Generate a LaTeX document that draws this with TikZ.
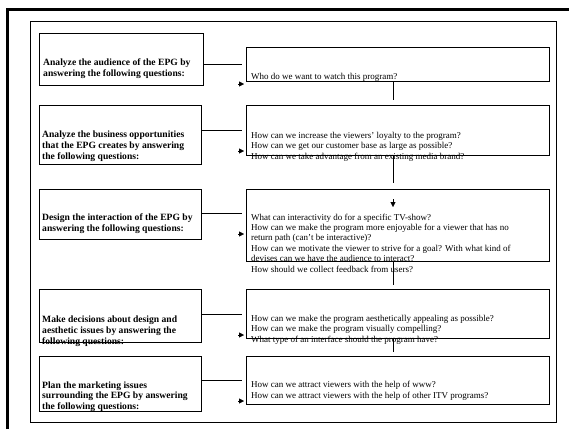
\documentclass[tikz,border=0pt]{standalone}
\usepackage{fontspec}
\setmainfont{Liberation Serif}
\usetikzlibrary{arrows.meta}

\tikzset{
  qbox/.style={draw,line width=0.8pt,inner sep=0pt,anchor=north west},
  ltext/.style={anchor=base west,align=left,inner sep=0pt,
    font=\fontsize{9.6}{10.7}\selectfont\bfseries},
  rtext/.style={anchor=base west,align=left,inner sep=0pt,
    font=\fontsize{9}{10.4}\selectfont},
  link/.style={line width=0.8pt},
  tip/.style={-{Triangle[length=5pt,width=5pt]}}
}

\begin{document}
\begin{tikzpicture}[x=1pt,y=-1pt]
  \useasboundingbox (0,0) rectangle (569,429);
  \draw[line width=3pt] (7,429) -- (7,9) -- (569,9);
  \draw[line width=0.8pt] (30,21) rectangle (556,422);

  \node[qbox,minimum width=164pt,minimum height=52pt] (l1) at (39,33) {};
  \node[qbox,minimum width=162pt,minimum height=59pt] (l2) at (39,105) {};
  \node[qbox,minimum width=162pt,minimum height=50pt] (l3) at (39,189) {};
  \node[qbox,minimum width=162pt,minimum height=53pt] (l4) at (39,289) {};
  \node[qbox,minimum width=162pt,minimum height=55pt] (l5) at (39,356) {};

  \node[qbox,minimum width=303pt,minimum height=34pt] (r1) at (246,47) {};
  \node[qbox,minimum width=303pt,minimum height=50pt] (r2) at (246,105) {};
  \node[qbox,minimum width=303pt,minimum height=72pt] (r3) at (246,189) {};
  \node[qbox,minimum width=303pt,minimum height=49pt] (r4) at (246,289) {};
  \node[qbox,minimum width=303pt,minimum height=48pt] (r5) at (246,356) {};

  % base anchor = last line
  \node[ltext] (lt1) at (43,76.5) {Analyze the audience of the EPG by\\answering the following questions:};
  \node[ltext] (lt2) at (42,159) {Analyze the business opportunities\\that the EPG creates by answering\\the following questions:};
  \node[ltext] (lt3) at (42,231) {Design the interaction of the EPG by\\answering the following questions:};
  \node[ltext] (lt4) at (42,344) {Make decisions about design and\\aesthetic issues by answering the\\following questions:};
  \node[ltext] (lt5) at (42,409.5) {Plan the marketing issues\\surrounding the EPG by answering\\the following questions:};

  \node[rtext] (rt1) at (251,79) {Who do we want to watch this program?};
  \node[rtext] (rt2) at (251,159) {How can we increase the viewers' loyalty to the program?\\How can we get our customer base as large as possible?\\How can we take advantage from an existing media brand?};
  \node[rtext] (rt3) at (251,272) {What can interactivity do for a specific TV-show?\\How can we make the program more enjoyable for a viewer that has no\\return path (can't be interactive)?\\How can we motivate the viewer to strive for a goal? With what kind of\\devises can we have the audience to interact?\\How should we collect feedback from users?};
  \node[rtext] (rt4) at (251,342) {How can we make the program aesthetically appealing as possible?\\How can we make the program visually compelling?\\What type of an interface should the program have?};
  \node[rtext] (rt5) at (251,398) {How can we attract viewers with the help of www?\\How can we attract viewers with the help of other ITV programs?};

  \draw[link] (l1.east |- 0,64) -- ([xshift=-4pt]r1.west |- 0,64);
  \draw[link] (l2.east |- 0,130) -- ([xshift=-4pt]r2.west |- 0,130);
  \draw[link] (l3.east |- 0,213) -- ([xshift=-4pt]r3.west |- 0,213);
  \draw[link] (l4.east |- 0,314) -- ([xshift=-4pt]r4.west |- 0,314);
  \draw[link] (l5.east |- 0,380) -- ([xshift=-4pt]r5.west |- 0,380);

  \draw[tip] ([xshift=-8pt]r1.west |- 0,84) -- ([xshift=-2pt]r1.west |- 0,84);
  \draw[tip] ([xshift=-8pt]r2.west |- 0,151) -- ([xshift=-2pt]r2.west |- 0,151);
  \draw[tip] ([xshift=-8pt]r3.west |- 0,234) -- ([xshift=-2pt]r3.west |- 0,234);
  \draw[tip] ([xshift=-8pt]r4.west |- 0,335) -- ([xshift=-2pt]r4.west |- 0,335);
  \draw[tip] ([xshift=-8pt]r5.west |- 0,401) -- ([xshift=-2pt]r5.west |- 0,401);

  \draw[link] (r1.south -| 393,0) -- ([yshift=5pt]r2.north -| 393,0);
  \draw[link] (r2.south -| 393,0) -- ([yshift=6pt]r3.north -| 393,0);
  \draw[tip] (393,199) -- (393,207);
  \draw[link] (r3.south -| 393,0) -- ([yshift=4pt]r4.north -| 393,0);
  \draw[link] (r4.south -| 393,0) -- ([yshift=4pt]r5.north -| 393,0);
\end{tikzpicture}
\end{document}
